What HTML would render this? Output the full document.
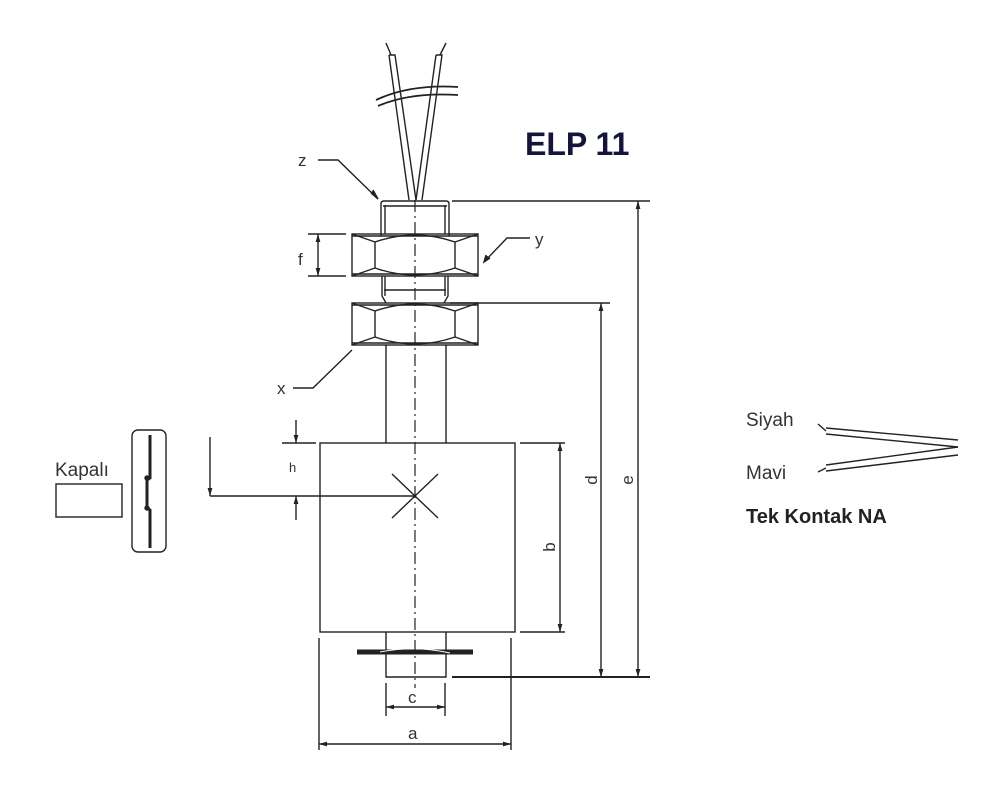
<!DOCTYPE html>
<html><head><meta charset="utf-8"><style>
html,body{margin:0;padding:0;background:#fff;}
svg{display:block;}
text{font-family:"Liberation Sans",Arial,sans-serif;fill:#333;}
</style></head><body>
<svg width="1000" height="805" viewBox="0 0 1000 805" xmlns="http://www.w3.org/2000/svg">
<defs>
<marker id="ar" viewBox="0 0 10 10" refX="10" refY="5" markerWidth="8" markerHeight="8" orient="auto-start-reverse" markerUnits="userSpaceOnUse"><path d="M0,2 L10,5 L0,8 z" fill="#222"/></marker>
</defs>
<g stroke="#222" stroke-width="1.4" fill="none">
<!-- wires -->
<path d="M386,43 L391,55 M389,55 L395,55 L416,200 M389,55 L409,200"/>
<path d="M446,43 L440,55 M436,55 L442,55 L422,200 M436,55 L416,200"/>
<path d="M376,100 Q410,84 458,87 M378,106 Q410,92 458,95" stroke-width="1.8" stroke="#222"/>
<path d="M380,96 L456,86" stroke="#fff" stroke-width="0"/>
<!-- top stub -->
<path d="M381,236 L381,204 Q381,201 384,201 L446,201 Q449,201 449,204 L449,236"/>
<line x1="385" y1="205" x2="385" y2="234"/><line x1="445" y1="205" x2="445" y2="234"/>
<line x1="383" y1="206" x2="447" y2="206"/>
<!-- nut y -->
<g id="nut">
<rect x="352" y="234" width="126" height="42"/>
<line x1="352" y1="236" x2="478" y2="236"/><line x1="352" y1="274" x2="478" y2="274"/>
<path d="M375,242 L375,268 M455,242 L455,268"/>
<path d="M352,234 L375,242 M352,276 L375,268 M478,234 L455,242 M478,276 L455,268"/>
<path d="M375,242 Q415,228 455,242 M375,268 Q415,282 455,268"/>
</g>
<!-- middle stub -->
<path d="M382,276 L382,296 L386,303 M448,276 L448,296 L444,303"/>
<line x1="385" y1="276" x2="385" y2="296"/><line x1="445" y1="276" x2="445" y2="296"/>
<line x1="384" y1="290" x2="446" y2="290"/>
<use href="#nut" y="69"/>
<!-- rod -->
<line x1="386" y1="345" x2="386" y2="443"/><line x1="446" y1="345" x2="446" y2="443"/>
<!-- body -->
<rect x="320" y="443" width="195" height="189"/>
<!-- bottom stub -->
<path d="M386,632 L386,677 L446,677 L446,632"/>
<path d="M357,652 L473,652" stroke-width="5"/>
<path d="M380,652 Q415,645 450,653" stroke="#fff" stroke-width="1"/>
<!-- centre line -->
<line x1="415" y1="200" x2="415" y2="688" stroke-dasharray="12,4,2,4" stroke-width="1.2"/>
<!-- X -->
<path d="M392,474 L438,518 M438,474 L392,518"/>
<!-- h -->
<line x1="210" y1="496" x2="415" y2="496"/>
<line x1="210" y1="437" x2="210" y2="496" marker-end="url(#ar)"/>
<line x1="282" y1="443" x2="316" y2="443"/>
<line x1="296" y1="420" x2="296" y2="443" marker-end="url(#ar)"/>
<line x1="296" y1="520" x2="296" y2="496" marker-end="url(#ar)"/>
<!-- f -->
<line x1="308" y1="234" x2="346" y2="234"/><line x1="308" y1="276" x2="346" y2="276"/>
<line x1="318" y1="234" x2="318" y2="276" marker-start="url(#ar)" marker-end="url(#ar)"/>
<!-- e/d/b -->
<line x1="452" y1="201" x2="650" y2="201"/>
<line x1="638" y1="201" x2="638" y2="677" marker-start="url(#ar)" marker-end="url(#ar)"/>
<line x1="450" y1="303" x2="610" y2="303"/>
<line x1="601" y1="303" x2="601" y2="677" marker-start="url(#ar)" marker-end="url(#ar)"/>
<line x1="520" y1="443" x2="565" y2="443"/><line x1="520" y1="632" x2="565" y2="632"/>
<line x1="560" y1="443" x2="560" y2="632" marker-start="url(#ar)" marker-end="url(#ar)"/>
<line x1="452" y1="677" x2="650" y2="677" stroke-width="2"/>
<!-- c / a -->
<line x1="386" y1="683" x2="386" y2="716"/><line x1="445" y1="683" x2="445" y2="716"/>
<line x1="386" y1="707" x2="445" y2="707" marker-start="url(#ar)" marker-end="url(#ar)"/>
<line x1="319" y1="638" x2="319" y2="750"/><line x1="511" y1="638" x2="511" y2="750"/>
<line x1="319" y1="744" x2="511" y2="744" marker-start="url(#ar)" marker-end="url(#ar)"/>
<!-- leaders -->
<path d="M318,160 L338,160 L378,199" /><path d="M371,193 L378,199 L373,190" fill="#222"/>
<path d="M530,238 L507,238 L484,262"/><path d="M486,255 L484,262 L490,258" fill="#222"/>
<path d="M293,388 L313,388 L352,350"/>
<!-- Kapali -->
<rect x="56" y="484" width="66" height="33"/>
<rect x="132" y="430" width="34" height="122" rx="6"/>
<path d="M150,435 L150,478 L147,480 L147,508 L150,510 L150,548" stroke-width="3"/>
<circle cx="147" cy="478" r="2" fill="#222"/><circle cx="147" cy="508" r="2" fill="#222"/>
<!-- Siyah / Mavi wires -->
<path d="M818,424 L826,431 M826,428 L958,440 M826,434 L958,447"/>
<path d="M818,472 L826,468 M826,465 L958,447 M826,471 L958,455"/>
</g>
<text x="525" y="155" font-size="32" font-weight="bold" style="fill:#14143c">ELP 11</text>
<text x="298" y="166" font-size="17">z</text>
<text x="535" y="245" font-size="17">y</text>
<text x="277" y="394" font-size="17">x</text>
<text x="298" y="265" font-size="17">f</text>
<text x="289" y="472" font-size="13">h</text>
<text x="408" y="703" font-size="17">c</text>
<text x="408" y="739" font-size="17">a</text>
<text transform="translate(597,480) rotate(-90)" font-size="17" text-anchor="middle">d</text>
<text transform="translate(633,480) rotate(-90)" font-size="17" text-anchor="middle">e</text>
<text transform="translate(555,547) rotate(-90)" font-size="17" text-anchor="middle">b</text>
<text x="55" y="476" font-size="19">Kapalı</text>
<text x="746" y="426" font-size="19">Siyah</text>
<text x="746" y="479" font-size="19">Mavi</text>
<text x="746" y="523" font-size="20" font-weight="bold" style="fill:#222">Tek Kontak NA</text>
</svg>
</body></html>
